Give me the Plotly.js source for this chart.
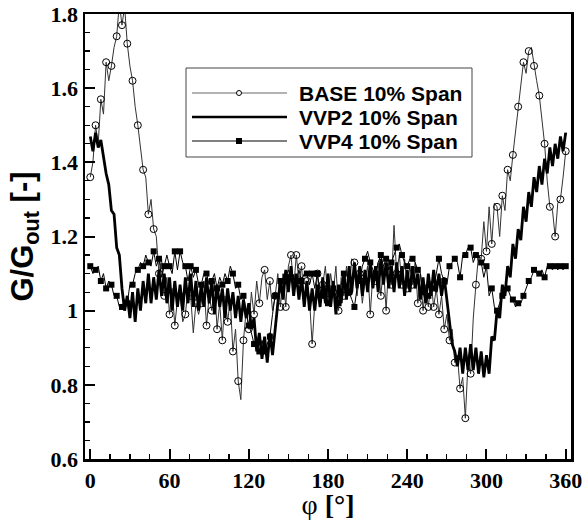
<!DOCTYPE html>
<html><head><meta charset="utf-8">
<script src="https://cdn.plot.ly/plotly-3.0.1.min.js"></script>
<style>html,body{margin:0;padding:0;background:#fff}</style>
</head><body><div id="chart" style="width:582px;height:520px"></div>
<script>
const phi = [0,2,4,6,8,10,12,14,16,18,20,22,24,26,28,30,32,34,36,38,40,42,44,46,48,50,52,54,56,58,
60,62,64,66,68,70,72,74,76,78,80,82,84,86,88,90,92,94,96,98,100,102,104,106,108,110,112,114,116,118,
120,122,124,126,128,130,132,134,136,138,140,142,144,146,148,150,152,154,156,158,160,162,164,166,168,170,172,174,176,178,
180,182,184,186,188,190,192,194,196,198,200,202,204,206,208,210,212,214,216,218,220,222,224,226,228,230,232,234,236,238,
240,242,244,246,248,250,252,254,256,258,260,262,264,266,268,270,272,274,276,278,280,282,284,286,288,290,292,294,296,298,
300,302,304,306,308,310,312,314,316,318,320,322,324,326,328,330,332,334,336,338,340,342,344,346,348,350,352,354,356,358,360];

const base = [1.36,1.40,1.50,1.45,1.57,1.53,1.67,1.62,1.66,1.71,
1.74,1.83,1.77,1.82,1.72,1.66,1.62,1.55,1.50,1.44,
1.38,1.36,1.26,1.30,1.22,1.20,1.10,1.14,1.04,1.09,
0.99,1.06,0.96,1.03,1.04,0.97,0.99,1.06,1.04,0.94,
1.02,0.99,1.02,1.08,0.96,1.04,1.00,1.08,0.95,1.02,
0.92,1.04,0.97,1.03,0.89,0.95,0.81,0.76,0.92,1.00,
0.95,1.05,0.99,1.08,1.02,1.09,1.11,1.03,1.08,1.00,
1.04,1.10,1.01,1.10,1.01,1.12,1.15,1.06,1.15,1.08,
1.12,1.02,1.08,1.03,0.91,1.02,1.10,1.02,1.07,1.12,
1.03,1.10,1.05,1.12,1.00,1.09,1.04,1.12,1.05,1.14,
1.13,1.04,1.10,1.02,1.08,1.12,0.99,1.10,1.08,1.13,
1.04,1.12,1.00,1.13,1.07,1.23,1.10,1.15,1.07,1.14,
1.06,1.12,1.07,1.13,1.02,1.10,1.00,1.07,1.01,1.08,
1.01,1.06,0.99,1.04,0.95,0.99,0.92,0.95,0.86,0.88,
0.79,0.82,0.71,0.86,0.83,0.98,1.07,1.15,1.14,1.24,
1.16,1.28,1.18,1.29,1.28,1.20,1.31,1.27,1.38,1.35,
1.42,1.48,1.55,1.61,1.67,1.64,1.70,1.71,1.66,1.62,
1.58,1.52,1.45,1.35,1.28,1.27,1.20,1.29,1.30,1.36,
1.43];

const vvp2 = [1.47,1.43,1.48,1.44,1.46,1.41,1.37,1.34,1.27,1.26,
1.17,1.15,1.06,1.00,1.04,0.98,1.05,0.97,1.06,1.00,
1.08,1.02,1.10,1.02,1.09,1.03,1.11,1.04,1.10,1.02,
1.09,1.00,1.08,1.01,1.07,1.00,1.09,1.02,1.10,1.01,
1.08,1.00,1.07,1.01,1.09,1.02,1.08,0.99,1.07,1.01,
1.06,0.98,1.06,1.00,1.05,0.98,1.04,0.97,1.03,0.98,
1.02,0.95,0.98,0.89,0.94,0.87,0.93,0.86,0.94,0.88,
0.96,1.02,1.08,1.03,1.11,1.05,1.12,1.04,1.10,1.03,
1.09,1.01,1.08,1.00,1.06,1.00,1.07,1.01,1.09,1.02,
1.10,1.01,1.08,0.99,1.07,1.02,1.10,1.03,1.12,1.05,
1.13,1.06,1.12,1.04,1.11,1.05,1.13,1.06,1.12,1.05,
1.14,1.07,1.13,1.06,1.12,1.05,1.13,1.06,1.12,1.04,
1.11,1.05,1.12,1.06,1.10,1.03,1.09,1.02,1.10,1.04,
1.11,1.05,1.10,1.04,1.09,1.03,0.96,0.91,0.89,0.85,
0.90,0.83,0.90,0.84,0.91,0.84,0.90,0.83,0.89,0.82,
0.88,0.83,0.93,0.92,1.00,0.98,1.07,1.04,1.12,1.09,
1.18,1.14,1.22,1.19,1.28,1.24,1.32,1.28,1.36,1.32,
1.39,1.34,1.41,1.37,1.44,1.39,1.45,1.41,1.47,1.43,
1.48];

const vvp4 = [1.12,1.10,1.11,1.12,1.08,1.10,1.06,1.08,1.07,1.04,
1.04,1.01,1.01,1.03,1.02,1.07,1.07,1.10,1.11,1.13,
1.12,1.15,1.13,1.12,1.16,1.12,1.14,1.09,1.12,1.15,
1.12,1.10,1.16,1.11,1.16,1.13,1.12,1.08,1.12,1.09,
1.11,1.07,1.07,1.10,1.10,1.07,1.08,1.10,1.06,1.09,
1.07,1.10,1.08,1.12,1.10,1.06,1.07,1.03,1.04,1.00,
0.96,0.94,0.91,0.93,0.89,0.92,0.89,0.91,0.93,0.99,
1.04,1.03,1.08,1.06,1.09,1.11,1.09,1.06,1.08,1.11,
1.08,1.10,1.10,1.07,1.10,1.06,1.10,1.05,1.04,1.06,
1.02,1.05,1.06,1.04,1.02,1.07,1.10,1.06,1.05,1.03,
1.01,1.06,1.08,1.12,1.14,1.16,1.13,1.11,1.10,1.13,
1.15,1.12,1.14,1.11,1.13,1.15,1.17,1.18,1.15,1.13,
1.12,1.14,1.14,1.13,1.11,1.10,1.05,1.02,1.04,1.06,
1.06,1.10,1.14,1.10,1.08,1.07,1.12,1.13,1.14,1.13,
1.09,1.15,1.15,1.17,1.17,1.13,1.15,1.15,1.13,1.09,
1.12,1.04,1.06,1.01,1.00,1.02,1.04,1.05,1.06,1.04,
1.03,1.01,1.02,1.02,1.04,1.06,1.08,1.09,1.11,1.10,
1.10,1.11,1.09,1.12,1.12,1.11,1.12,1.11,1.12,1.11,
1.12];

const seriesNames = ['BASE 10% Span', 'VVP2 10% Span', 'VVP4 10% Span'];
const xTicks = [0, 60, 120, 180, 240, 300, 360];
const yTicks = [0.6, 0.8, 1, 1.2, 1.4, 1.6, 1.8];

const everyOther = arr => arr.filter((_, i) => i % 2 === 0);

const traces = [
  {x: phi, y: base, mode: 'lines', line: {color: '#333', width: 1}, name: seriesNames[0]},
  {x: everyOther(phi), y: everyOther(base), mode: 'markers', name: seriesNames[0],
   marker: {symbol: 'circle-open', size: 7, color: '#000', line: {width: 1, color: '#000'}}},
  {x: phi, y: vvp2, mode: 'lines', line: {color: '#000', width: 2.8}, name: seriesNames[1]},
  {x: phi, y: vvp4, mode: 'lines', line: {color: '#000', width: 1}, name: seriesNames[2]},
  {x: everyOther(phi), y: everyOther(vvp4), mode: 'markers', name: seriesNames[2],
   marker: {symbol: 'square', size: 6, color: '#000'}}
];

const L = 85, R = 11, T = 14, B = 61, W = 582, H = 520;
const pw = W - L - R, ph = H - T - B;
const px = x => (x - L) / pw;
const py = y => (H - B - y) / ph;

const rows = [93, 117, 141];
const shapes = [
  {type: 'rect', xref: 'paper', yref: 'paper', x0: px(186), x1: px(472), y0: py(157), y1: py(68),
   line: {color: '#444', width: 1}, fillcolor: '#fff', layer: 'above'},
  {type: 'line', xref: 'paper', yref: 'paper', x0: px(192), x1: px(287), y0: py(rows[0]), y1: py(rows[0]),
   line: {color: '#666', width: 1}, layer: 'above'},
  {type: 'circle', xref: 'paper', yref: 'paper', x0: px(236.5), x1: px(241.5), y0: py(rows[0] + 2.5), y1: py(rows[0] - 2.5),
   line: {color: '#000', width: 1}, fillcolor: '#fff', layer: 'above'},
  {type: 'line', xref: 'paper', yref: 'paper', x0: px(192), x1: px(287), y0: py(rows[1]), y1: py(rows[1]),
   line: {color: '#000', width: 2.6}, layer: 'above'},
  {type: 'line', xref: 'paper', yref: 'paper', x0: px(192), x1: px(287), y0: py(rows[2]), y1: py(rows[2]),
   line: {color: '#000', width: 1}, layer: 'above'},
  {type: 'rect', xref: 'paper', yref: 'paper', x0: px(236), x1: px(242), y0: py(rows[2] + 3), y1: py(rows[2] - 3),
   line: {color: '#000', width: 0}, fillcolor: '#000', layer: 'above'}
];
const annotations = seriesNames.map((n, i) => ({
  text: '<b>' + n + '</b>', xref: 'paper', yref: 'paper', x: px(297), y: py(rows[i]),
  xanchor: 'left', yanchor: 'middle', showarrow: false,
  font: {family: 'Liberation Sans, Arial, sans-serif', size: 21, color: '#000'}
}));

const tickFont = {family: 'Liberation Serif, Times New Roman, serif', size: 22, color: '#000', weight: 'bold'};

const layout = {
  width: W, height: H,
  margin: {l: L, r: R, t: T, b: B, pad: 0},
  paper_bgcolor: '#fff', plot_bgcolor: '#fff',
  showlegend: false,
  xaxis: {
    range: [-4, 364], tickvals: xTicks, ticks: 'inside', ticklen: 10, tickwidth: 2, tickcolor: '#000',
    minor: {dtick: 15, tick0: 0, ticks: 'inside', ticklen: 5, tickwidth: 1.2, tickcolor: '#000', showgrid: false},
    showline: true, linewidth: 2.5, linecolor: '#000', mirror: true, showgrid: false, zeroline: false,
    tickfont: tickFont, ticklabeloverflow: 'allow',
    title: {text: 'φ <b>[°]</b>', font: {family: 'Liberation Serif, Times New Roman, serif', size: 28, color: '#000'}, standoff: 4}
  },
  yaxis: {
    range: [0.6, 1.8], tickvals: yTicks, ticks: 'inside', ticklen: 10, tickwidth: 2, tickcolor: '#000',
    minor: {dtick: 0.05, tick0: 0.6, ticks: 'inside', ticklen: 5, tickwidth: 1.2, tickcolor: '#000', showgrid: false},
    showline: true, linewidth: 2.5, linecolor: '#000', mirror: true, showgrid: false, zeroline: false,
    tickfont: tickFont, ticklabeloverflow: 'allow',
    title: {text: '<b>G/G<sub>out</sub> [-]</b>', font: {family: 'Liberation Sans, Arial, sans-serif', size: 31, color: '#000'}, standoff: 8}
  },
  shapes: shapes,
  annotations: annotations
};

Plotly.newPlot('chart', traces, layout, {displayModeBar: false, staticPlot: true});
</script>
</body></html>
